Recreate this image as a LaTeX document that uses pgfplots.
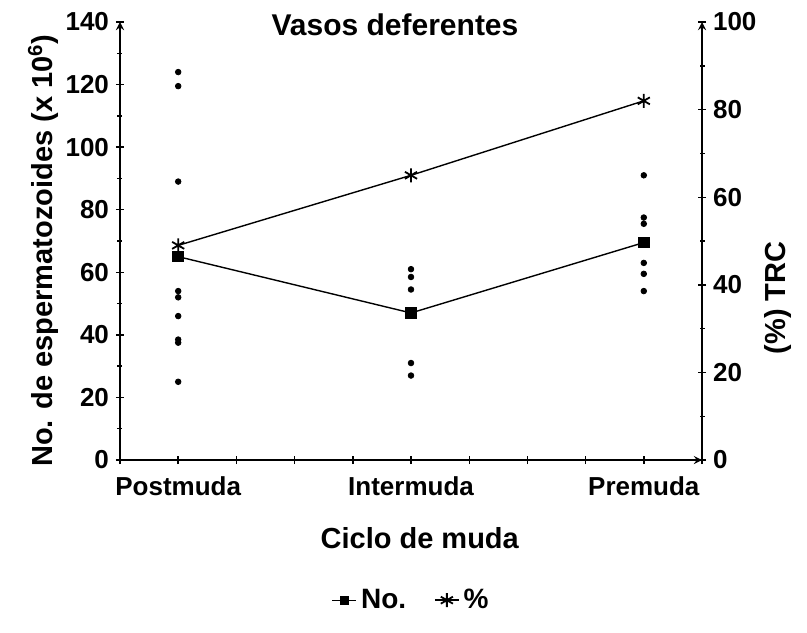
\documentclass[border=0pt]{standalone}
\usepackage{fontspec}
\setmainfont{Liberation Sans}
\usepackage{pgfplots}
\pgfplotsset{compat=1.18}

\begin{document}
\begin{tikzpicture}
\pgfplotsset{
  base/.style={
    scale only axis, width=291pt, height=219pt,
    xmin=-0.25, xmax=2.25,
    axis line style={-, line width=0.8pt},
    tick align=outside, tick style={black, line width=0.7pt},
    major tick length=4pt, minor tick length=2.5pt,
    /pgf/number format/assume math mode=true,
    tick label style={font=\fontsize{13}{15}\selectfont\bfseries},
    label style={font=\fontsize{14.5}{17}\selectfont\bfseries},
  }
}
% left axis: No. de espermatozoides
\begin{axis}[base,
  axis x line=bottom, axis y line=left,
  ymin=0, ymax=140, ytick={0,20,...,140}, minor ytick={10,30,...,130},
  xtick={-0.25,0,0.25,0.5,0.75,1,1.25,1.5,1.75,2,2.25},
  xticklabels={,Postmuda,,,,Intermuda,,,,Premuda,},
  xticklabel style={yshift=-3pt},
  xlabel={Ciclo de muda},
  xlabel style={at={(axis description cs:0.515,-0.178)}, anchor=center},
  ylabel={No. de espermatozoides (x 10\textsuperscript{6})},
  ylabel style={at={(axis description cs:-0.132,0.478)}, anchor=center},
  title={Vasos deferentes},
  title style={at={(0.4725,0.985)}, anchor=center, yshift=-4pt,
    font=\fontsize{15}{17}\selectfont\bfseries},
]
% individual values
\addplot[only marks, mark=*, mark size=1.4pt, black] coordinates {
  (0,124) (0,119.5) (0,89) (0,54) (0,52) (0,46) (0,38.5) (0,37.5) (0,25)
  (1,61) (1,58.5) (1,54.5) (1,31) (1,27)
  (2,91) (2,77.5) (2,75.5) (2,63) (2,59.5) (2,54)
};
% mean
\addplot[black, line width=0.7pt, mark=square*, mark size=2.5pt] coordinates {
  (0,65) (1,47) (2,69.5)
};
\end{axis}

% right axis: (%) TRC
\begin{axis}[base,
  axis x line=none, axis y line=right,
  ymin=0, ymax=100, ytick={0,20,...,100}, minor ytick={10,30,...,90},
  ylabel={(\%) TRC},
  ylabel style={at={(axis description cs:1.13,0.37)}, anchor=center,
    font=\fontsize{14.5}{17}\selectfont\bfseries},
  legend style={draw=none, fill=none, at={(axis description cs:0.502,-0.32)}, anchor=center,
    legend columns=2, font=\fontsize{14}{16}\selectfont\bfseries,
    /tikz/every even column/.append style={column sep=12pt}},
  legend image code/.code={\draw[mark repeat=2,mark phase=2,#1]
    plot coordinates {(0pt,0pt) (6pt,0pt) (12pt,0pt)};},
]
\addlegendimage{black, line width=0.6pt, mark=square*, mark size=2pt}
\addlegendentry{No.}
\addplot[black, line width=0.7pt, mark=asterisk, mark size=3.5pt,
  mark options={line width=0.9pt}] coordinates {
  (0,49) (1,65) (2,82)
};
\addlegendentry{\%}
\end{axis}

\pgfresetboundingbox
\path (-60pt,-86pt) rectangle (343.5pt,230pt);
\end{tikzpicture}
\end{document}
